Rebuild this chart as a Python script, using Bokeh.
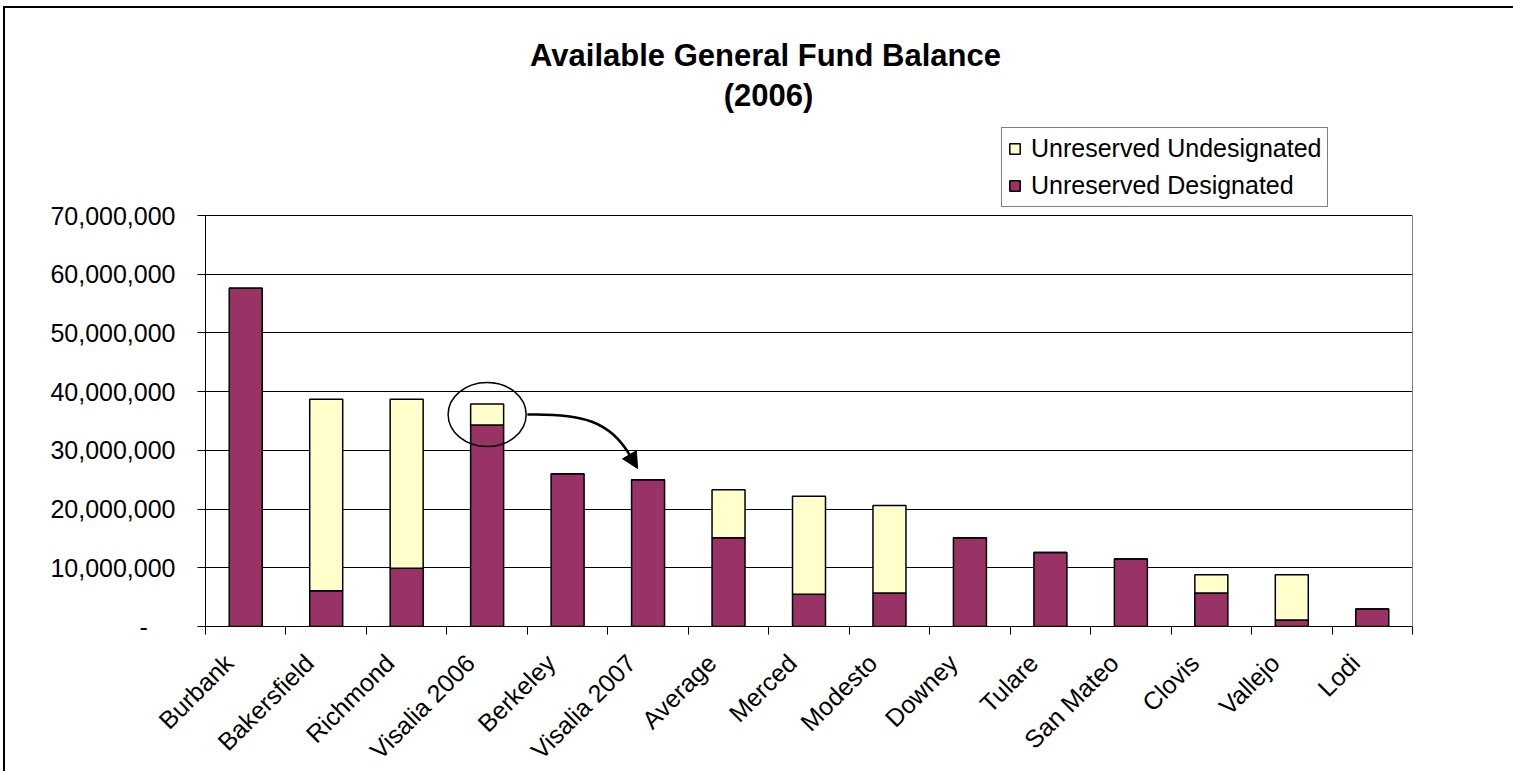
from bokeh.plotting import figure
from bokeh.models import (Range1d, FixedTicker, NumeralTickFormatter, Legend, LegendItem,
                          Label, Arrow, NormalHead, ColumnDataSource, LinearAxis)
from bokeh.embed import file_html
from bokeh.resources import INLINE

categories = ["Burbank", "Bakersfield", "Richmond", "Visalia 2006", "Berkeley", "Visalia 2007",
              "Average", "Merced", "Modesto", "Downey", "Tulare", "San Mateo", "Clovis",
              "Vallejo", "Lodi"]
designated = [57.6e6, 6.1e6, 9.9e6, 34.3e6, 26.0e6, 25.0e6, 15.1e6, 5.5e6, 5.7e6,
              15.1e6, 12.6e6, 11.5e6, 5.7e6, 1.1e6, 3.0e6]
undesignated = [0, 32.6e6, 28.8e6, 3.6e6, 0, 0, 8.2e6, 16.7e6, 14.9e6,
                0, 0, 0, 3.1e6, 7.7e6, 0]
y_ticks = [0, 10e6, 20e6, 30e6, 40e6, 50e6, 60e6, 70e6]
title_lines = ["Available General Fund Balance", "(2006)"]
legend_labels = ["Unreserved Undesignated", "Unreserved Designated"]

FONT = "Liberation Sans"
PLUM = "#993366"
CREAM = "#FFFFCC"

Y_MAX = 70e6
PLOT_PX = 411          # pixel height of the 0..70M plot area
FRAME_PX = 606         # frame extended upward to hold title and legend (unclipped)

xpos = [i + 0.5 for i in range(len(categories))]
label_pos = [round(x - 0.21, 2) for x in xpos]
totals = [d + u for d, u in zip(designated, undesignated)]

src = ColumnDataSource(dict(x=xpos, designated=designated, undesignated=undesignated))

p = figure(width=1508, height=755, frame_width=1207, frame_height=FRAME_PX,
           min_border_left=200, min_border_top=12, min_border_right=101, min_border_bottom=137,
           x_range=Range1d(0, len(categories)), y_range=Range1d(0, Y_MAX * FRAME_PX / PLOT_PX),
           output_backend="svg", toolbar_location=None, title=None,
           styles={"border-left": "2px solid black", "border-top": "2px solid black",
                   "margin-left": "3px", "margin-top": "6px"})
p.background_fill_color = "white"
p.border_fill_color = "white"
p.outline_line_color = None

rs = p.vbar_stack(["designated", "undesignated"], x="x", width=0.41, source=src,
                  fill_color=[PLUM, CREAM], line_color="black", line_width=1.5)

# x axis
p.xaxis.ticker = FixedTicker(ticks=label_pos, minor_ticks=list(range(len(categories) + 1)))
p.xaxis.major_label_overrides = {x: c for x, c in zip(label_pos, categories)}
p.xaxis.major_tick_out = 0
p.xaxis.major_tick_in = 0
p.xaxis.minor_tick_out = 8
p.xaxis.minor_tick_in = 0
p.xaxis.minor_tick_line_color = "black"
p.xaxis.axis_line_color = "black"
p.xaxis.major_label_orientation = 0.785398
p.xaxis.major_label_text_font = FONT
p.xaxis.major_label_text_font_size = "25px"
p.xaxis.major_label_text_color = "black"
p.xaxis.major_label_standoff = 24

# y axis
p.yaxis.bounds = (0, Y_MAX)
p.yaxis.ticker = FixedTicker(ticks=y_ticks)
p.yaxis.formatter = NumeralTickFormatter(format="0,0")
p.yaxis.major_label_overrides = {0: "-\u00a0\u00a0\u00a0\u00a0"}
p.yaxis.major_tick_out = 8
p.yaxis.major_tick_in = 0
p.yaxis.minor_tick_out = 0
p.yaxis.minor_tick_in = 0
p.yaxis.major_tick_line_color = "black"
p.yaxis.axis_line_color = "black"
p.yaxis.major_label_text_font = FONT
p.yaxis.major_label_text_font_size = "25px"
p.yaxis.major_label_text_color = "black"
p.yaxis.major_label_standoff = 22

# right border of the plot area
right = LinearAxis(bounds=(0, Y_MAX), ticker=FixedTicker(ticks=[]),
                   axis_line_color="#808080", major_tick_out=0, major_tick_in=0,
                   minor_tick_out=0, minor_tick_in=0)
p.add_layout(right, "right")

p.xgrid.visible = False
p.ygrid.ticker = FixedTicker(ticks=y_ticks)
p.ygrid.grid_line_color = "black"
p.ygrid.grid_line_width = 1

# legend
legend = Legend(items=[LegendItem(label=legend_labels[0], renderers=[rs[1]]),
                       LegendItem(label=legend_labels[1], renderers=[rs[0]])],
                location=(796, 419), orientation="vertical",
                label_text_font=FONT, label_text_font_size="25px", label_text_color="black",
                glyph_width=13, glyph_height=13, label_standoff=10,
                padding=6, spacing=8, margin=0,
                border_line_color="black", border_line_width=1,
                background_fill_color="white", background_fill_alpha=1.0)
p.add_layout(legend)

# title
p.add_layout(Label(x=560, y=571, x_units="screen", y_units="screen", text=title_lines[0],
                   text_font=FONT, text_font_size="31px", text_font_style="bold",
                   text_align="center", text_baseline="middle", text_color="black"))
p.add_layout(Label(x=563, y=531, x_units="screen", y_units="screen", text=title_lines[1],
                   text_font=FONT, text_font_size="31px", text_font_style="bold",
                   text_align="center", text_baseline="middle", text_color="black"))

# highlight ellipse around Visalia 2006 and arrow to Visalia 2007
i06 = categories.index("Visalia 2006")
i07 = categories.index("Visalia 2007")
cy = (totals[i06] + designated[i06]) / 2
p.ellipse(x=[xpos[i06]], y=[cy], width=0.97, height=10.9e6,
          fill_color=None, line_color="black", line_width=1.5)
p.bezier(x0=[xpos[i06] + 0.5], y0=[cy],
         cx0=[xpos[i06] + 1.16], cy0=[cy + 0.2e6],
         cx1=[xpos[i07] - 0.47], cy1=[cy - 1.0e6],
         x1=[xpos[i07] - 0.22], y1=[totals[i07] + 4.0e6],
         line_color="black", line_width=2.5)
p.add_layout(Arrow(end=NormalHead(size=16, fill_color="black", line_color="black"),
                   x_start=xpos[i07] - 0.22, y_start=totals[i07] + 4.0e6,
                   x_end=xpos[i07] - 0.13, y_end=totals[i07] + 1.9e6,
                   line_color="black", line_width=2.5))

open("out.html", "w").write(file_html(p, INLINE))
